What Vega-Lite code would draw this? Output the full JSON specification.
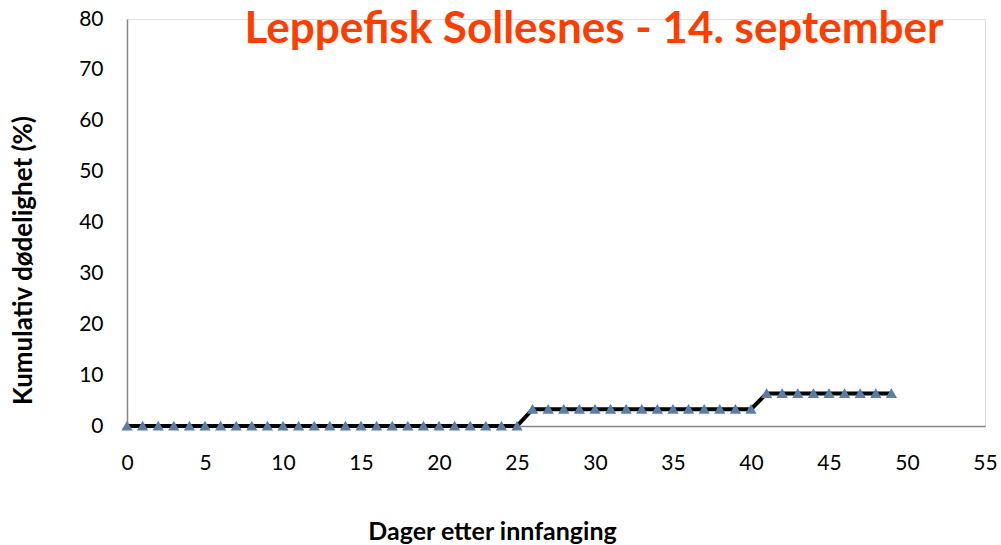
{
  "$schema": "https://vega.github.io/schema/vega-lite/v6.json",
  "width": 858,
  "height": 407,
  "autosize": {"type": "none"},
  "padding": {"left": 127, "top": 19, "right": 16, "bottom": 119},
  "background": "white",
  "title": {
    "text": "Leppefisk Sollesnes - 14. september",
    "anchor": "middle",
    "dx": 38,
    "offset": -44,
    "font": "Lato",
    "fontSize": 44,
    "fontWeight": "bold",
    "color": "#FF3D00"
  },
  "data": {
    "values": [
      {"dag": 0, "d": 0}, {"dag": 1, "d": 0}, {"dag": 2, "d": 0}, {"dag": 3, "d": 0}, {"dag": 4, "d": 0},
      {"dag": 5, "d": 0}, {"dag": 6, "d": 0}, {"dag": 7, "d": 0}, {"dag": 8, "d": 0}, {"dag": 9, "d": 0},
      {"dag": 10, "d": 0}, {"dag": 11, "d": 0}, {"dag": 12, "d": 0}, {"dag": 13, "d": 0}, {"dag": 14, "d": 0},
      {"dag": 15, "d": 0}, {"dag": 16, "d": 0}, {"dag": 17, "d": 0}, {"dag": 18, "d": 0}, {"dag": 19, "d": 0},
      {"dag": 20, "d": 0}, {"dag": 21, "d": 0}, {"dag": 22, "d": 0}, {"dag": 23, "d": 0}, {"dag": 24, "d": 0},
      {"dag": 25, "d": 0},
      {"dag": 26, "d": 3.3}, {"dag": 27, "d": 3.3}, {"dag": 28, "d": 3.3}, {"dag": 29, "d": 3.3}, {"dag": 30, "d": 3.3},
      {"dag": 31, "d": 3.3}, {"dag": 32, "d": 3.3}, {"dag": 33, "d": 3.3}, {"dag": 34, "d": 3.3}, {"dag": 35, "d": 3.3},
      {"dag": 36, "d": 3.3}, {"dag": 37, "d": 3.3}, {"dag": 38, "d": 3.3}, {"dag": 39, "d": 3.3}, {"dag": 40, "d": 3.3},
      {"dag": 41, "d": 6.4}, {"dag": 42, "d": 6.4}, {"dag": 43, "d": 6.4}, {"dag": 44, "d": 6.4}, {"dag": 45, "d": 6.4},
      {"dag": 46, "d": 6.4}, {"dag": 47, "d": 6.4}, {"dag": 48, "d": 6.4}, {"dag": 49, "d": 6.4}
    ]
  },
  "encoding": {
    "x": {
      "field": "dag",
      "type": "quantitative",
      "scale": {"domain": [0, 55], "nice": false, "zero": false},
      "axis": {
        "title": "Dager etter innfanging",
        "values": [0, 5, 10, 15, 20, 25, 30, 35, 40, 45, 50, 55],
        "grid": false,
        "ticks": false,
        "tickSize": 0,
        "domainColor": "#868686",
        "domainWidth": 1.5,
        "labelFont": "Lato",
        "labelFontSize": 21,
        "labelColor": "#000000",
        "labelPadding": 26,
        "labelFlush": false,
        "labelOverlap": false,
        "titleFont": "Lato",
        "titleFontSize": 25,
        "titleFontWeight": "bold",
        "titleColor": "#000000",
        "titlePadding": 46,
        "titleX": 365
      }
    },
    "y": {
      "field": "d",
      "type": "quantitative",
      "scale": {"domain": [0, 80], "nice": false},
      "axis": {
        "title": "Kumulativ dødelighet (%)",
        "values": [0, 10, 20, 30, 40, 50, 60, 70, 80],
        "grid": false,
        "ticks": false,
        "tickSize": 0,
        "domainColor": "#868686",
        "domainWidth": 1.5,
        "labelFont": "Lato",
        "labelFontSize": 21,
        "labelColor": "#000000",
        "labelPadding": 24,
        "labelFlush": false,
        "labelOverlap": false,
        "titleFont": "Lato",
        "titleFontSize": 26,
        "titleFontWeight": "bold",
        "titleColor": "#000000",
        "titlePadding": 42,
        "titleY": 241
      }
    }
  },
  "layer": [
    {
      "mark": {"type": "line", "color": "#000000", "strokeWidth": 4}
    },
    {
      "mark": {"type": "point", "shape": "triangle-up", "filled": true, "size": 75, "fill": "#6B7A8F", "stroke": "#4F81BD", "strokeWidth": 1.5, "opacity": 1}
    }
  ]
}
